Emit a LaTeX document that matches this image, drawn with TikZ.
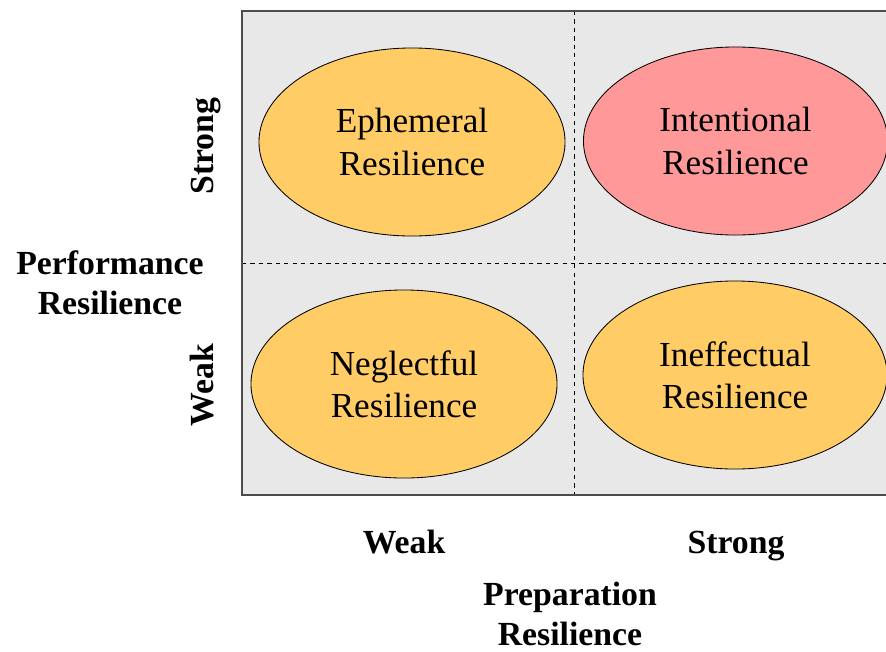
\documentclass[tikz,border=0pt]{standalone}
\usepackage{fontspec}
\setmainfont{Liberation Serif}
\usetikzlibrary{shapes.geometric}
\definecolor{fond}{RGB}{232,232,232}
\definecolor{jaune}{RGB}{255,204,102}
\definecolor{rose}{RGB}{255,153,153}
\tikzset{
  zone/.style={ellipse,draw=black,line width=0.6pt,inner sep=0pt,
    minimum width=7.65cm,minimum height=4.7cm,align=center,
    font=\fontsize{25}{30}\selectfont},
  axe/.style={font=\fontsize{24}{28.5}\selectfont\bfseries,align=center}
}
\begin{document}
\begin{tikzpicture}[x=0.025cm,y=-0.025cm]
    \useasboundingbox (0,0) rectangle (886,651);
    \clip (0,0) rectangle (886,651);

    % Dessine le cadre
    \fill[fond] (242,11) rectangle (900,495);
    \draw[dashed,line width=0.6pt] (574,11) -- (574,495);
    \draw[dashed,line width=0.6pt] (242,263) -- (900,263);
    \draw[line width=1pt,black!70] (900,11) -- (242,11) -- (242,495) -- (900,495);

    % Dessine les ellipses
    \node[zone,fill=jaune] (ephem) at (412,142) {Ephemeral\\Resilience};
    \node[zone,fill=rose,minimum width=7.6cm] (inten) at (735.5,141) {Intentional\\Resilience};
    \node[zone,fill=jaune] (negli) at (404,384) {Neglectful\\Resilience};
    \node[zone,fill=jaune,minimum width=7.6cm] (ineff) at (735,375) {Ineffectual\\Resilience};

    % Axe vertical
    \node[axe,rotate=90,anchor=base] (vfort) at (213,146) {Strong};
    \node[axe,rotate=90,anchor=base] (vfaible) at (213,385) {Weak};
    \node[axe] (perf) at (110,283) {Performance\\Resilience};

    % Axe horizontal
    \node[axe,anchor=base] (hfaible) at (404,553) {Weak};
    \node[axe,anchor=base] (hfort) at (736,553) {Strong};
    \node[axe] (prep) at (570,614) {Preparation\\Resilience};
\end{tikzpicture}
\end{document}
